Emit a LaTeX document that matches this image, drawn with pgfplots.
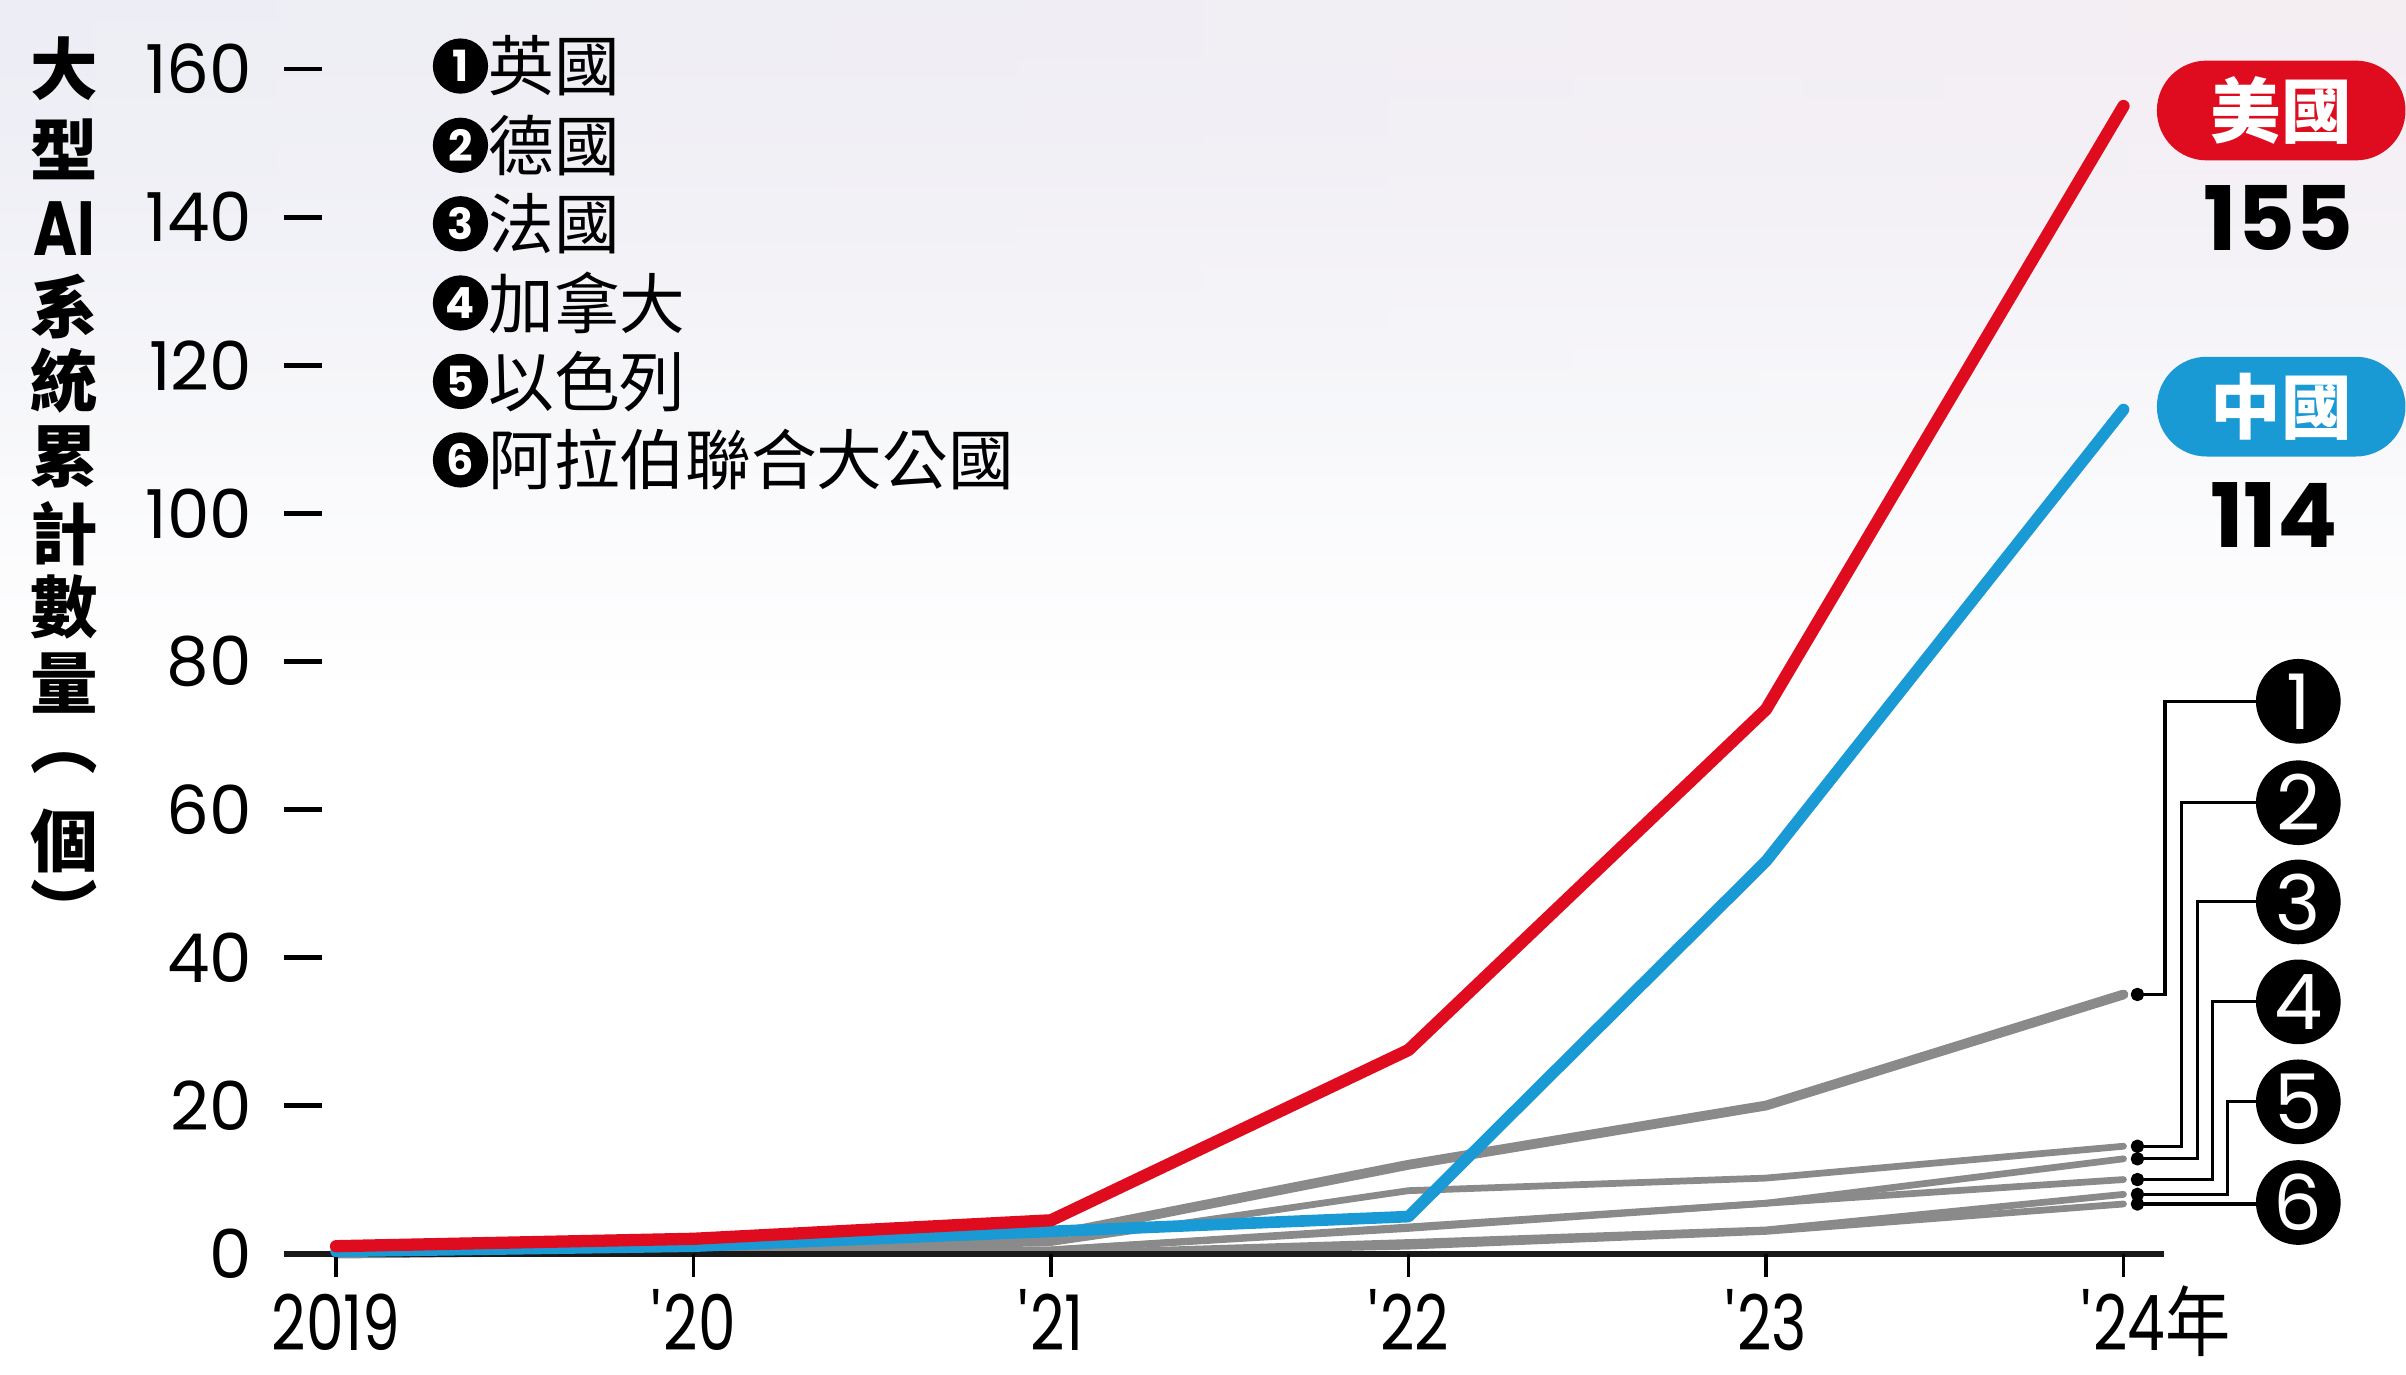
\documentclass[border=0pt]{standalone}
\usepackage{fontspec}
\setmainfont{Poppins}
\newfontfamily\cjk{Noto Sans CJK TC}
\newfontfamily\cond[FakeStretch=0.78]{Poppins}
\newfontfamily\condcjk[FakeStretch=0.85]{Noto Sans CJK TC}
\usepackage{pgfplots}
\pgfplotsset{compat=1.18}
\usetikzlibrary{fadings}
\definecolor{usred}{RGB}{222,12,30}
\definecolor{cnblue}{RGB}{26,154,212}
\definecolor{lgray}{RGB}{138,138,138}
\definecolor{bgtop}{RGB}{237,238,245}
\definecolor{bgpink}{RGB}{250,238,243}
\begin{document}
\begin{tikzpicture}
\useasboundingbox (0,0) rectangle (392pt,224pt);
\shade[top color=bgtop, bottom color=white] (0,110pt) rectangle (392pt,224pt);
\shade[left color=bgtop, right color=bgpink, opacity=0.6, path fading=south] (0,150pt) rectangle (392pt,224pt);
\begin{axis}[
  at={(46.25pt,19.75pt)}, anchor=south west,
  scale only axis, width=306.25pt, height=199.03pt,
  xmin=-0.146, xmax=5.112, ymin=0, ymax=165,
  axis line style={draw=none},
  xtick={0,1,2,3,4,5},
  xticklabels={2019,\textquotesingle20,\textquotesingle21,\textquotesingle22,\textquotesingle23,\textquotesingle24\rlap{\condcjk 年}},
  xtick style={draw=none},
  ytick={0,20,...,160},
  ytick pos=left, ytick align=inside, major tick length=6.25pt,
  ytick style={black, line width=0.8pt},
  yticklabel style={font=\fontsize{11}{11}\selectfont, anchor=east, inner sep=0pt, xshift=-5pt},
  xticklabel style={font=\cond\fontsize{12.5}{12.5}\selectfont, anchor=base, inner sep=0pt, yshift=-15.8pt},
  /pgf/number format/assume math mode=true,
  clip=false,
  every axis plot/.append style={line cap=round, line join=round},
]
% other countries
\addplot[lgray, line width=1.1pt] coordinates {(0,0)(1,0)(2,0)(3,1)(4,3)(5,6.7)};
\addplot[lgray, line width=1.1pt] coordinates {(0,0)(1,0)(2,0)(3,1.5)(4,3.2)(5,8)};
\addplot[lgray, line width=1.1pt] coordinates {(0,0)(1,0)(2,0.5)(3,3.4)(4,6.8)(5,10)};
\addplot[lgray, line width=1.1pt] coordinates {(0,0)(1,0)(2,0.5)(3,3.6)(4,6.8)(5,12.8)};
\addplot[lgray, line width=1.1pt] coordinates {(0,0)(1,0)(2,1.5)(3,8.5)(4,10.2)(5,14.5)};
% UK
\addplot[lgray, line width=1.6pt] coordinates {(0,0)(1,0.5)(2,2.5)(3,12)(4,20)(5,35)};
% x axis line and ticks
\draw[line width=1pt, black!90] (axis cs:-0.146,0) -- (axis cs:5.112,0);
\pgfplotsinvokeforeach{0,1,2,3,4,5}{\draw[line width=0.6pt] (axis cs:#1,0) -- ++(0pt,-3.75pt);}
% China
\addplot[cnblue, line width=1.9pt] coordinates {(0,0.3)(1,1)(2,3)(3,5)(4,53)(5,114)};
% USA
\addplot[usred, line width=2pt] coordinates {(0,1)(1,2)(2,4.5)(3,27.5)(4,73.5)(5,155)};
% connectors
\draw[line width=0.5pt] (axis cs:5.039,35) -| (axis cs:5.116,74.6) -- (axis cs:5.489,74.6);
\draw[line width=0.5pt] (axis cs:5.039,14.5) -| (axis cs:5.163,60.9) -- (axis cs:5.489,60.9);
\draw[line width=0.5pt] (axis cs:5.039,12.8) -| (axis cs:5.206,47.5) -- (axis cs:5.489,47.5);
\draw[line width=0.5pt] (axis cs:5.039,10) -| (axis cs:5.249,34.0) -- (axis cs:5.489,34.0);
\draw[line width=0.5pt] (axis cs:5.039,8) -| (axis cs:5.292,20.5) -- (axis cs:5.489,20.5);
\draw[line width=0.5pt] (axis cs:5.039,6.7) -- (axis cs:5.489,6.7);
\addplot[only marks, mark=*, mark size=0.9pt, black] coordinates {(5.039,35)(5.039,14.5)(5.039,12.8)(5.039,10)(5.039,8)(5.039,6.7)};
% numbered circles on the right
\foreach \n/\yy in {1/74.6,2/60.9,3/47.5,4/34.0,5/20.5,6/6.9}{
  \edef\tmp{\noexpand\node[circle, fill=black, minimum size=13.8pt, inner sep=0pt, text=white, font=\noexpand\fontsize{12.5}{12.5}\noexpand\selectfont] at (axis cs:5.489,\yy) {\n};}
  \tmp
}
% pills
\node[fill=usred, rounded corners=8.1pt, minimum width=40.5pt, minimum height=16.25pt, anchor=west, inner sep=0pt, text=white, font=\cjk\bfseries\fontsize{11.5}{11.5}\selectfont] at (axis cs:5.09,154.4) {美國};
\node[font=\bfseries\fontsize{14.5}{14.5}\selectfont] at (axis cs:5.433,139.9) {155};
\node[fill=cnblue, rounded corners=8.1pt, minimum width=40.5pt, minimum height=16.25pt, anchor=west, inner sep=0pt, text=white, font=\cjk\bfseries\fontsize{11.5}{11.5}\selectfont] at (axis cs:5.09,114.4) {中國};
\node[font=\bfseries\fontsize{14.5}{14.5}\selectfont] at (axis cs:5.421,99.7) {114};
% legend
\foreach \n/\yy/\name in {1/160.4/英國,2/149.7/德國,3/139.1/法國,4/128.4/加拿大,5/117.8/以色列,6/107.2/阿拉伯聯合大公國}{
  \edef\tmp{\noexpand\node[circle, fill=black, minimum size=9pt, inner sep=0pt, text=white, font=\noexpand\bfseries\noexpand\fontsize{7}{7}\noexpand\selectfont] at (axis cs:0.348,\yy) {\n};
  \noexpand\node[anchor=west, inner sep=0pt, font=\noexpand\cjk\noexpand\fontsize{10.7}{10.7}\noexpand\selectfont] at (axis cs:0.423,\yy) {\name};}
  \tmp
}
% y label (vertical stacked)
\foreach \yy/\ch in {160.0/大,149.2/型,127.9/系,117.9/統,107.6/累,97.2/計,87.3/數,77.1/量,66.3/︵,55.7/個,46.6/︶}{
  \edef\tmp{\noexpand\node[inner sep=0pt, font=\noexpand\cjk\noexpand\bfseries\noexpand\fontsize{11}{11}\noexpand\selectfont] at (axis cs:-0.760,\yy) {\ch};}
  \tmp
}
\node[inner sep=0pt, font=\cond\bfseries\fontsize{12.5}{12.5}\selectfont] at (axis cs:-0.760,138.4) {AI};
\end{axis}
\end{tikzpicture}
\end{document}
